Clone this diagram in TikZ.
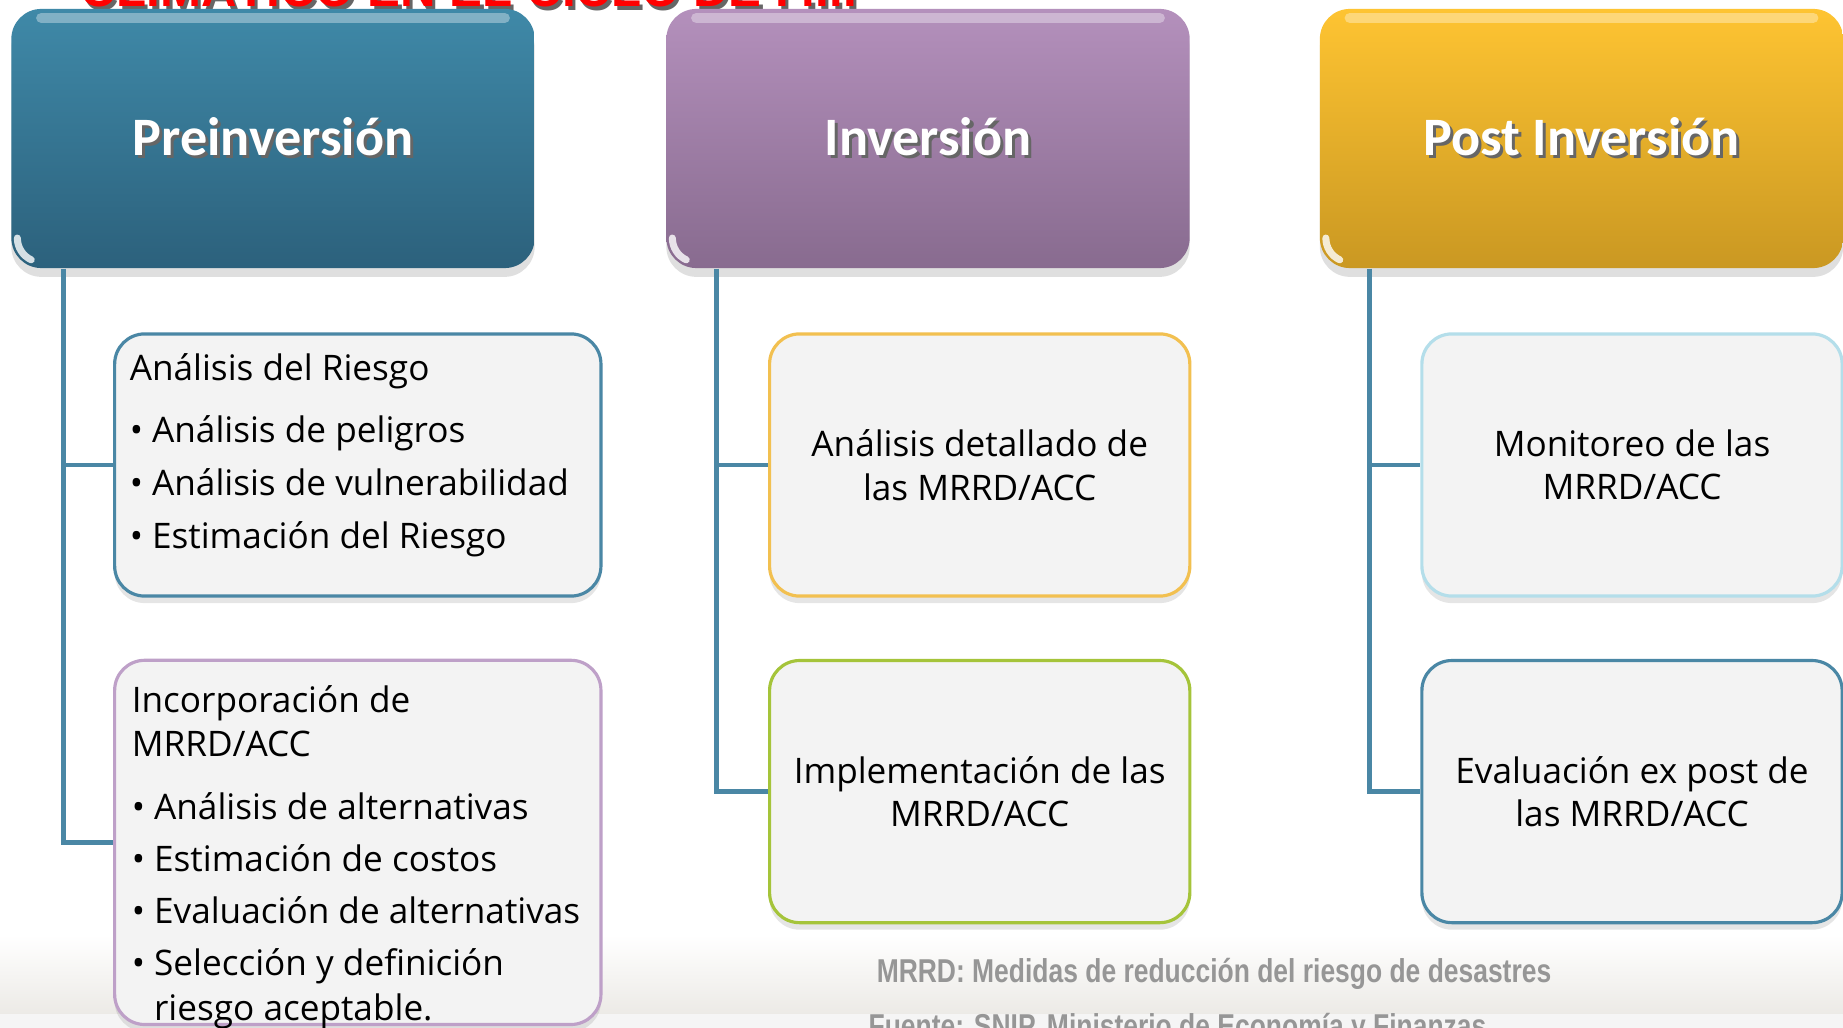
\documentclass[tikz,border=0pt]{standalone}
\usepackage{fontspec}
\setmainfont{Open Sans}
\newfontfamily\headfont{Carlito}
\newfontfamily\notefont[FakeStretch=0.8]{Liberation Sans}
\newfontfamily\titlefont{Liberation Sans}
\usetikzlibrary{positioning,shadows}

\definecolor{preTop}{RGB}{63,137,168}
\definecolor{preBot}{RGB}{44,97,124}
\definecolor{invTop}{RGB}{180,144,188}
\definecolor{invBot}{RGB}{136,107,143}
\definecolor{posTop}{RGB}{254,196,50}
\definecolor{posBot}{RGB}{202,152,34}
\definecolor{linkCol}{RGB}{74,135,165}
\definecolor{blueLine}{RGB}{74,135,165}
\definecolor{purpleLine}{RGB}{190,160,200}
\definecolor{goldLine}{RGB}{242,192,80}
\definecolor{greenLine}{RGB}{165,196,58}
\definecolor{cyanLine}{RGB}{180,222,234}
\definecolor{boxFill}{RGB}{243,243,243}
\definecolor{noteGray}{RGB}{150,150,150}
\definecolor{footShade}{RGB}{236,234,230}

% white text with a dark shadow
\newcommand{\shtext}[1]{\rlap{\kern0.9pt\raisebox{-0.9pt}{\color{black!60}#1}}#1}

\tikzset{
  phase/.style={rounded corners=0.3cm, minimum width=5.23cm,
    minimum height=2.59cm, text=white, inner sep=0pt,
    font=\headfont\bfseries\fontsize{15.4}{18}\selectfont,
    drop shadow={opacity=0.25, shadow xshift=0pt, shadow yshift=-2.5pt},
    path picture={
      \draw[white, opacity=0.35, line width=3pt, line cap=round]
        ([xshift=0.3cm, yshift=-0.09cm]path picture bounding box.north west) --
        ([xshift=-0.3cm, yshift=-0.09cm]path picture bounding box.north east);
      \draw[white, opacity=0.8, line width=2pt, line cap=round]
        ([shift={(0.06cm,0.3cm)}]path picture bounding box.south west)
        arc[start angle=180, end angle=245, radius=0.24cm];}},
  taskbox/.style={rounded corners=0.3cm, fill=boxFill, line width=0.9pt,
    align=center, inner sep=0pt,
    font=\fontsize{10}{12.4}\selectfont,
    drop shadow={opacity=0.2, shadow xshift=0pt, shadow yshift=-2pt}},
  widebox/.style={taskbox, minimum width=4.86cm},
  narrowbox/.style={taskbox, minimum width=4.2cm, minimum height=2.62cm},
  listtxt/.style={anchor=north west, align=left, inner sep=0pt},
  link/.style={draw=linkCol, line width=1.4pt},
  note/.style={anchor=base, inner sep=0pt, text=noteGray,
    font=\notefont\bfseries\fontsize{9.4}{11}\selectfont}
}

\begin{document}
\begin{tikzpicture}[x=0.01cm,y=-0.01cm]
  \useasboundingbox (0,0) rectangle (1843,1028);
  \clip (0,0) rectangle (1843,1028);
  \fill[white] (0,0) rectangle (1843,1028);
  \shade[top color=white, bottom color=footShade] (0,935) rectangle (1843,1014);
  \fill[white!96!black] (0,1014) rectangle (1843,1028);

  % title, cut by the top edge
  \node[anchor=base west, inner sep=0pt, text=red,
    font=\titlefont\bfseries\fontsize{14}{16}\selectfont]
    (title) at (80,7) {\shtext{CLIMÁTICO EN EL CICLO DE P.I.P}};

  % phases
  \node[phase, top color=preTop, bottom color=preBot] (pre)
    at (273,138.5) {\shtext{Preinversión}};
  \node[phase, top color=invTop, bottom color=invBot] (inv)
    at (928,138.5) {\shtext{Inversión}};
  \node[phase, top color=posTop, bottom color=posBot] (post)
    at (1581.5,138.5) {\shtext{Post Inversión}};

  % tasks
  \node[widebox, draw=blueLine, minimum height=2.62cm] (riesgo)
    at (357.8,465) {};
  \node[widebox, draw=purpleLine, minimum height=3.64cm] (incorp)
    at (357.8,842.4) {};
  \node[narrowbox, draw=goldLine] (detalle) at (979.7,465)
    {Análisis detallado de\\las MRRD/ACC};
  \node[narrowbox, draw=greenLine] (implem) at (979.7,791.6)
    {Implementación de las\\MRRD/ACC};
  \node[narrowbox, draw=cyanLine] (monitor) at (1632,465)
    {Monitoreo de las\\MRRD/ACC};
  \node[narrowbox, draw=blueLine] (evalua) at (1632,791.6)
    {Evaluación ex post de\\las MRRD/ACC};

  \node[listtxt, font=\fontsize{10}{15.1}\selectfont] (riesgo-l)
    at ([shift={(16,21)}]riesgo.north west)
    {Análisis del Riesgo\\[2.3pt]
     •~Análisis de peligros\\
     •~Análisis de vulnerabilidad\\
     •~Estimación del Riesgo};
  \node[listtxt, font=\fontsize{10}{12.6}\selectfont] (incorp-l)
    at ([shift={(18,26)}]incorp.north west)
    {Incorporación de\\
     MRRD/ACC\\[5.3pt]
     •~Análisis de alternativas\\[2.2pt]
     •~Estimación de costos\\[2.2pt]
     •~Evaluación de alternativas\\[2.2pt]
     •~Selección y definición\\
     \phantom{•~}riesgo aceptable.};

  % connectors
  \coordinate (pre-stem) at ([xshift=0.53cm]pre.south west);
  \coordinate (inv-stem) at ([xshift=0.505cm]inv.south west);
  \coordinate (post-stem) at ([xshift=0.505cm]post.south west);
  \draw[link] (pre-stem) |- (riesgo.west);
  \draw[link] (pre-stem) |- (incorp.west);
  \draw[link] (inv-stem) |- (detalle.west);
  \draw[link] (inv-stem) |- (implem.west);
  \draw[link] (post-stem) |- (monitor.west);
  \draw[link] (post-stem) |- (evalua.west);

  % notes
  \node[note] (mrrd) at (1214,982)
    {MRRD: Medidas de reducción del riesgo de desastres};
  \node[note] (fuente) at (1177.5,1037)
    {Fuente: SNIP, Ministerio de Economía y Finanzas};
\end{tikzpicture}
\end{document}
